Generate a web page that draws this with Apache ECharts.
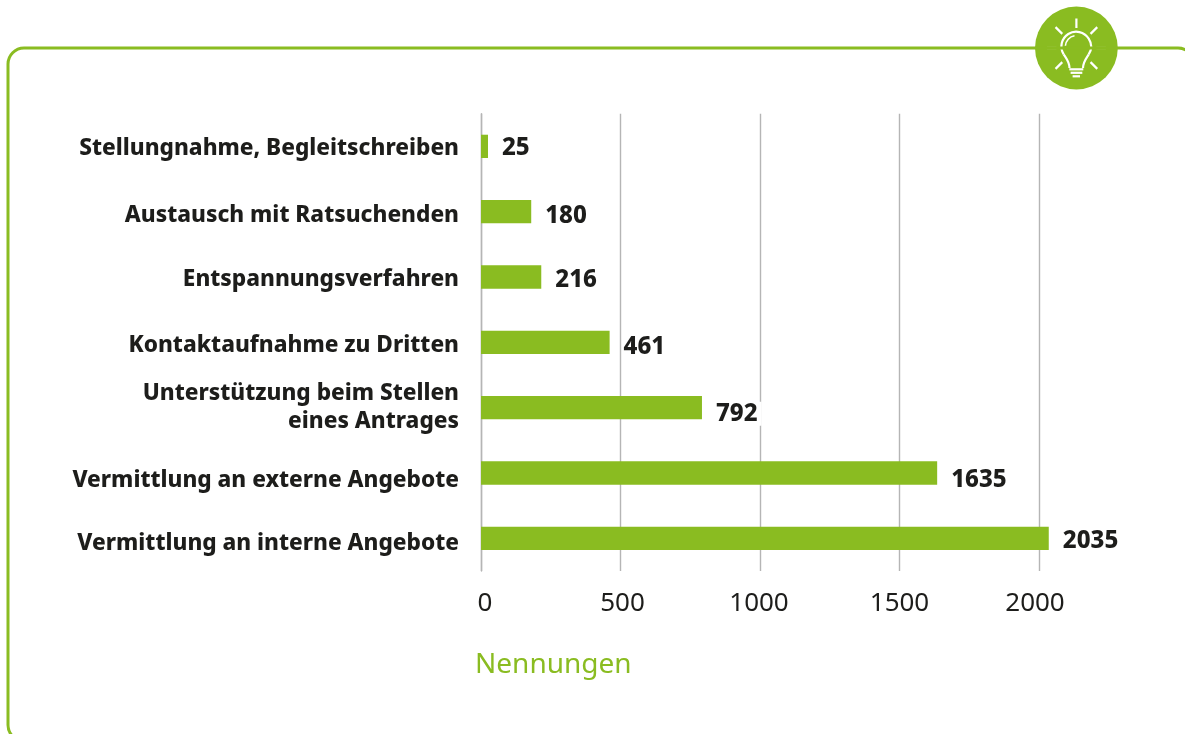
<!DOCTYPE html>
<html>
<head>
<meta charset="utf-8">
<style>
html, body { margin: 0; padding: 0; background: #fff; }
#chart { width: 1185px; height: 734px; }
</style>
<script src="https://cdn.jsdelivr.net/npm/echarts@6/dist/echarts.min.js"></script>
</head>
<body>
<div id="chart"></div>
<script>
const categories = [
    'Stellungnahme, Begleitschreiben',
    'Austausch mit Ratsuchenden',
    'Entspannungsverfahren',
    'Kontaktaufnahme zu Dritten',
    'Unterstützung beim Stellen\neines Antrages',
    'Vermittlung an externe Angebote',
    'Vermittlung an interne Angebote'
];
const values = [25, 180, 216, 461, 792, 1635, 2035];
const axisTitle = 'Nennungen';

const green = '#8abc21';
const dark = '#1d1d1b';
const fontName = '"Noto Sans", sans-serif';

// die Beschriftungen sitzen im Original nicht ganz mittig zum Balken
const catShift = [2, 4, 3, 3, 0, 8, 5];
const valueShift = [2, 4, 3, 5, 6, 7, 3];
const tickShift = {0: 4, 500: 2, 1000: -1, 1500: 0, 2000: -4};

// rich-Styles für die Kategorien, Versatz läuft über das padding
const catRich = {};
catShift.forEach((s, i) => {
    catRich['c' + i] = {
        color: dark, fontSize: 22.6, fontWeight: 800, lineHeight: 28, fontFamily: fontName,
        padding: [s * 2, 0, 0, 0]
    };
});
catRich.plain = {color: dark, fontSize: 22.6, fontWeight: 800, lineHeight: 28, fontFamily: fontName};

const tickRich = {};
Object.keys(tickShift).forEach(k => {
    const s = tickShift[k];
    tickRich['t' + k] = {
        color: dark, fontSize: 26, fontFamily: fontName,
        padding: s > 0 ? [0, 0, 0, s * 2] : [0, -s * 2, 0, 0]
    };
});

// Glühbirne oben rechts
const bulbX = 1076.4, bulbY = 48;
const white = {stroke: '#fff', lineWidth: 2.2, fill: 'none'};
function ray(angle) {
    const a = angle * Math.PI / 180;
    return {
        type: 'line',
        shape: {
            x1: bulbX + 20 * Math.cos(a), y1: bulbY + 20 * Math.sin(a),
            x2: bulbX + 29.5 * Math.cos(a), y2: bulbY + 29.5 * Math.sin(a)
        },
        style: white
    };
}
const bulb = [
    {type: 'circle', shape: {cx: bulbX, cy: bulbY, r: 41.4}, style: {fill: green}},
    ...[0, 45, 135, 180, 225, 270, 315].map(ray),
    {type: 'arc', shape: {cx: 1076.2, cy: 46.5, r: 14.8, startAngle: Math.PI * 0.82, endAngle: Math.PI * 0.18, clockwise: true}, style: white},
    {type: 'bezierCurve', shape: {x1: 1063.7, y1: 54.4, cpx1: 1066, cpy1: 58, x2: 1069.5, y2: 68, cpx2: 1069.5, cpy2: 62}, style: white},
    {type: 'bezierCurve', shape: {x1: 1088.7, y1: 54.4, cpx1: 1086.4, cpy1: 58, x2: 1083, y2: 68, cpx2: 1083, cpy2: 62}, style: white},
    {type: 'line', shape: {x1: 1069.3, y1: 69.3, x2: 1083.3, y2: 69.3}, style: white},
    {type: 'line', shape: {x1: 1070.6, y1: 72.8, x2: 1082.3, y2: 72.8}, style: white},
    {type: 'line', shape: {x1: 1072.6, y1: 76.3, x2: 1080, y2: 76.3}, style: white},
    {type: 'arc', shape: {cx: 1076.2, cy: 46.5, r: 10.8, startAngle: Math.PI * 1.02, endAngle: Math.PI * 1.45, clockwise: true}, style: {stroke: '#fff', lineWidth: 1.6, fill: 'none'}}
];

const myChart = echarts.init(document.getElementById('chart'), null, {renderer: 'canvas'});
myChart.setOption({
    animation: false,
    backgroundColor: '#fff',
    textStyle: {fontFamily: fontName},
    title: {
        text: axisTitle,
        left: 470,
        top: 646,
        textStyle: {color: green, fontSize: 28, fontWeight: 'normal', fontFamily: fontName}
    },
    grid: {left: 481, top: 113.7, width: 558, height: 457.3},
    xAxis: {
        type: 'value',
        min: 0,
        max: 2000,
        interval: 500,
        axisLine: {show: false},
        axisTick: {show: false},
        axisLabel: {
            color: dark, fontSize: 26, margin: 20, fontFamily: fontName,
            formatter: v => '{t' + v + '|' + v + '}',
            rich: tickRich
        },
        splitLine: {lineStyle: {color: '#b5b5b5', width: 1.4}}
    },
    yAxis: {
        type: 'category',
        inverse: true,
        data: categories,
        axisLine: {lineStyle: {color: '#b5b5b5', width: 1.4}},
        axisTick: {show: false},
        axisLabel: {
            margin: 22,
            align: 'right',
            formatter: (name, i) => name.split('\n')
                .map((line, n) => '{' + (n === 0 ? 'c' + i : 'plain') + '|' + line + '}')
                .join('\n'),
            rich: catRich
        }
    },
    series: [{
        type: 'bar',
        data: values.map((v, i) => ({value: v, label: {offset: [0, valueShift[i]]}})),
        barWidth: 23.3,
        clip: false,
        itemStyle: {color: green},
        label: {
            show: true,
            position: 'right',
            distance: 14,
            color: dark,
            fontSize: 24,
            fontWeight: 800,
            fontFamily: fontName,
            backgroundColor: '#fff',
            padding: [0, 4, 0, 0]
        }
    }],
    graphic: [
        {type: 'rect', z: 10, shape: {x: 8, y: 48, width: 1186, height: 693, r: 16}, style: {fill: 'none', stroke: green, lineWidth: 3}},
        {type: 'group', z: 11, children: bulb}
    ]
});
</script>
</body>
</html>
